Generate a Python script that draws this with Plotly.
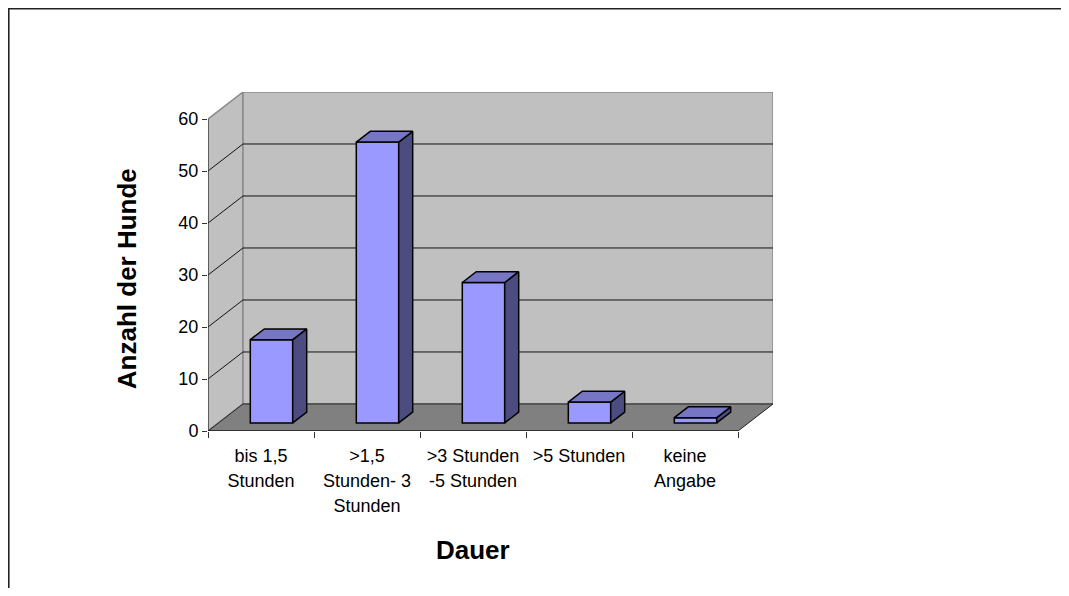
import plotly.graph_objects as go

# ---- data ----
categories = ["bis 1,5<br>Stunden", ">1,5<br>Stunden- 3<br>Stunden",
              ">3 Stunden<br>-5 Stunden", ">5 Stunden", "keine<br>Angabe"]
values = [16, 54, 27, 4, 1]
y_tick_values = [0, 10, 20, 30, 40, 50, 60]
y_axis_max = 60
x_title = "Dauer"
y_title = "Anzahl der Hunde"

# ---- 3D projection settings ----
DX = 0.33      # depth offset in category units
DY = 5.2       # depth offset in value units
BAR_W = 0.4
D0, D1 = 0.3, 0.7

FRONT = "#9999FF"
TOP = "#7676C4"
SIDE = "#4C4C80"
WALL = "#C0C0C0"
FLOOR = "#808080"
FONT = "Liberation Sans, Arial, sans-serif"

W, H = 1053, 580
L, R, T, B = 200, 288, 84, 157
PW, PH = W - L - R, H - T - B

n = len(categories)


def P(x, v, d):
    return x + d * DX, v + d * DY


def path(pts, close=True):
    s = "M " + " L ".join(f"{x:.4f},{y:.4f}" for x, y in pts)
    return s + (" Z" if close else "")


shapes = []
# left wall
shapes.append(dict(type="path", xref="x", yref="y", layer="below",
                   path=path([P(0, 0, 0), P(0, y_axis_max, 0), P(0, y_axis_max, 1), P(0, 0, 1)]),
                   fillcolor=WALL, line=dict(color="#8a8a8a", width=1.5)))
# back wall
shapes.append(dict(type="path", xref="x", yref="y", layer="below",
                   path=path([P(0, 0, 1), P(n, 0, 1), P(n, y_axis_max, 1), P(0, y_axis_max, 1)]),
                   fillcolor=WALL, line=dict(color="#8a8a8a", width=1.5)))
# gridlines
for t in y_tick_values[1:-1]:
    x0, y0 = P(0, t, 1)
    x1, y1 = P(n, t, 1)
    shapes.append(dict(type="line", xref="x", yref="y", layer="below",
                       x0=x0, y0=y0, x1=x1, y1=y1, line=dict(color="#111111", width=1)))
    xa, ya = P(0, t, 0)
    shapes.append(dict(type="line", xref="x", yref="y", layer="below",
                       x0=xa, y0=ya, x1=x0, y1=y0, line=dict(color="#111111", width=1)))
# floor
shapes.append(dict(type="path", xref="x", yref="y", layer="below",
                   path=path([P(0, 0, 0), P(n, 0, 0), P(n, 0, 1), P(0, 0, 1)]),
                   fillcolor=FLOOR, line=dict(color="#222222", width=1)))
# axis lines (front plane)
shapes.append(dict(type="line", xref="x", yref="y", x0=0, y0=0, x1=0, y1=y_axis_max,
                   line=dict(color="#333333", width=1.2)))
shapes.append(dict(type="line", xref="x", yref="y", x0=0, y0=0, x1=n, y1=0,
                   line=dict(color="#111111", width=1.2)))
# outer frame: only its top and left edges fall inside the picture
fx0 = (0.8 - L) / PW
fx1 = (W + 20 - L) / PW
fy0 = -(H + 20 - T - PH) / PH
fy1 = (H - B - 0.8) / PH
shapes.append(dict(type="path", xref="paper", yref="paper",
                   path=path([(fx0, fy0), (fx0, fy1), (fx1, fy1)], close=False),
                   line=dict(color="#222222", width=1.6)))

fig = go.Figure()

# front faces of the bars
fig.add_trace(go.Bar(
    x=[i + 0.5 + D0 * DX for i in range(n)], y=values, base=D0 * DY, width=BAR_W,
    marker=dict(color=FRONT, line=dict(color="#000000", width=1.5)),
    hoverinfo="skip", showlegend=False))

# side and top faces
for i, v in enumerate(values):
    xl, xr = i + 0.5 - BAR_W / 2, i + 0.5 + BAR_W / 2
    side = [P(xr, 0, D0), P(xr, v, D0), P(xr, v, D1), P(xr, 0, D1), P(xr, 0, D0)]
    top = [P(xl, v, D0), P(xr, v, D0), P(xr, v, D1), P(xl, v, D1), P(xl, v, D0)]
    for pts, col in ((side, SIDE), (top, TOP)):
        fig.add_trace(go.Scatter(
            x=[p[0] for p in pts], y=[p[1] for p in pts], mode="lines",
            fill="toself", fillcolor=col, line=dict(color="#000000", width=1.5),
            hoverinfo="skip", showlegend=False))

tick_text = ["<br>".join(f'<span style="font-size:18px">{ln}</span>' for ln in c.split("<br>"))
             for c in categories]

fig.update_layout(
    width=W, height=H,
    margin=dict(l=L, r=R, t=T, b=B, autoexpand=False),
    paper_bgcolor="white", plot_bgcolor="white",
    font=dict(family=FONT, size=18, color="#000000"),
    shapes=shapes,
    showlegend=False,
    xaxis=dict(range=[0, n + DX], tickmode="array",
               tickvals=[i + 0.5 for i in range(n)], ticktext=tick_text,
               ticks="", showgrid=False, zeroline=False, showline=False,
               tickfont=dict(size=19.5), ticklabelstandoff=10,
               automargin=False, fixedrange=True,
               minor=dict(tickmode="array", tickvals=list(range(n + 1)),
                          ticks="outside", ticklen=6, tickcolor="#333333",
                          tickwidth=1, showgrid=False)),
    yaxis=dict(range=[0, y_axis_max + DY], tickmode="array", tickvals=y_tick_values,
               ticks="outside", ticklen=5, tickcolor="#333333", tickwidth=1,
               showgrid=False, zeroline=False, showline=False,
               tickfont=dict(size=18), automargin=False, fixedrange=True),
    annotations=[
        dict(text=f"<b>{y_title}</b>", xref="paper", yref="y",
             x=(119 - L) / PW, y=29.2, textangle=-90, showarrow=False,
             xanchor="center", yanchor="middle", font=dict(size=26)),
        dict(text=f"<b>{x_title}</b>", xref="x", yref="paper",
             x=n / 2, y=-(542 - (H - B)) / PH, showarrow=False,
             xanchor="center", yanchor="middle", font=dict(size=26)),
    ],
)

fig.write_html("out.html")
